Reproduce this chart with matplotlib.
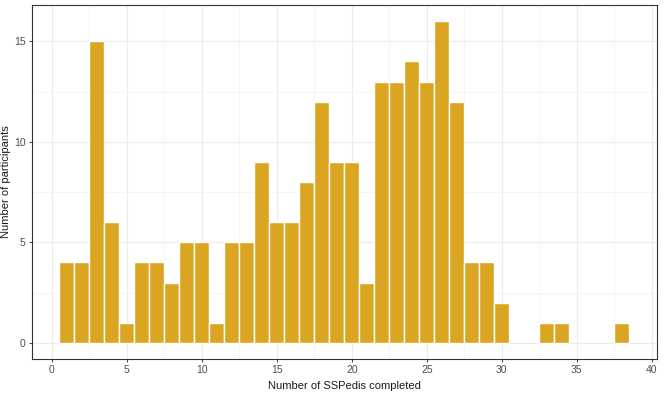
import matplotlib
matplotlib.use("Agg")
import matplotlib.pyplot as plt
import numpy as np

plt.rcParams['font.family'] = ['Liberation Sans', 'DejaVu Sans']

completed = list(range(1, 39))
participants = [4, 4, 15, 6, 1, 4, 4, 3, 5, 5,
                1, 5, 5, 9, 6, 6, 8, 12, 9, 9,
                3, 13, 13, 14, 13, 16, 12, 4, 4, 2,
                0, 0, 1, 1, 0, 0, 0, 1]
x_ticks = [0, 5, 10, 15, 20, 25, 30, 35, 40]
y_ticks = [0, 5, 10, 15]

fig = plt.figure(figsize=(6.64, 3.97), dpi=100)
ax = fig.add_axes([0.048, 0.096, 0.941, 0.891])

vals = np.array(participants)
xs = np.array(completed)
mask = vals > 0
ax.bar(xs[mask], vals[mask], width=1.0, color='#DAA520', edgecolor='white', linewidth=1.0)

ax.set_xticks(x_ticks)
ax.set_yticks(y_ticks)
ax.set_xticks(np.arange(2.5, 40, 5), minor=True)
ax.set_yticks([2.5, 7.5, 12.5], minor=True)
ax.set_xlim(-1.33, 40.33)
ax.set_ylim(-0.8, 16.8)
ax.grid(which='major', color='#EBEBEB', linewidth=0.8)
ax.grid(which='minor', color='#F2F2F2', linewidth=0.5)
ax.set_axisbelow(True)

for s in ax.spines.values():
    s.set_color('#333333')
    s.set_linewidth(0.8)

ax.tick_params(axis='both', which='major', labelsize=7.5, colors='#4D4D4D', length=2.5, width=0.8, pad=2)
ax.tick_params(axis='both', which='minor', length=0)
for lbl in ax.get_xticklabels() + ax.get_yticklabels():
    lbl.set_color('#4D4D4D')

ax.set_xlabel('Number of SSPedis completed', fontsize=8, color='#1A1A1A', labelpad=4)
ax.set_ylabel('Number of participants', fontsize=8, color='#1A1A1A', labelpad=2)

fig.savefig('out.png', dpi=100)
